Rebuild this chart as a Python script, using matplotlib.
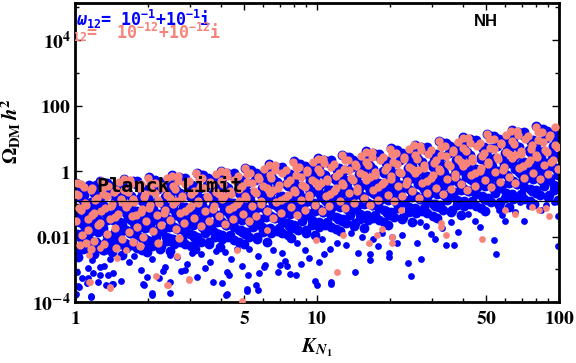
import matplotlib
matplotlib.use('Agg')
import matplotlib.pyplot as plt
from matplotlib.font_manager import FontProperties
from matplotlib.ticker import FixedLocator, NullFormatter

# math fonts: stix for axis labels, custom mono bold for the legend lines
plt.rcParams['mathtext.fontset'] = 'stix'
plt.rcParams['mathtext.rm'] = 'DejaVu Sans Mono:bold'
plt.rcParams['mathtext.it'] = 'DejaVu Sans Mono:bold:italic'
plt.rcParams['mathtext.bf'] = 'DejaVu Sans Mono:bold'

# (K_N1, Omega h^2), omega12 = 1e-1 + 1e-1 i
blue_core = [
    (1.01,0.44),(1.12,0.31),(1.20,0.22),(1.04,0.16),(1.17,0.11),(1.08,0.078),(1.23,0.055),(1.02,0.039),(1.14,0.027),(1.10,0.02),(1.25,0.014),(1.05,0.0098),(1.19,0.007),(1.07,0.0049),(1.16,0.0033),(1.03,0.0024),(1.22,0.38),(1.09,0.19),(1.15,0.068),(1.24,0.033),(1.06,0.012),(1.21,0.0042),
    (1.27,0.5),(1.41,0.36),(1.52,0.25),(1.33,0.18),(1.47,0.125),(1.30,0.089),(1.56,0.063),(1.38,0.045),(1.44,0.032),(1.29,0.022),(1.54,0.016),(1.35,0.011),(1.49,0.008),(1.40,0.0056),(1.31,0.0039),(1.57,0.0028),(1.36,0.42),(1.50,0.21),(1.28,0.075),(1.45,0.038),(1.53,0.013),(1.34,0.0066),
    (1.60,0.58),(1.78,0.41),(1.92,0.29),(1.66,0.21),(1.86,0.145),(1.71,0.1),(1.97,0.073),(1.63,0.052),(1.82,0.037),(1.75,0.026),(1.94,0.018),(1.68,0.013),(1.89,0.0092),(1.61,0.0065),(1.80,0.0046),(1.98,0.0033),(1.73,0.5),(1.90,0.24),(1.64,0.085),(1.84,0.044),(1.70,0.015),(1.95,0.0078),
    (2.02,0.65),(2.25,0.46),(2.42,0.32),(2.10,0.23),(2.35,0.16),(2.17,0.115),(2.48,0.082),(2.05,0.058),(2.30,0.041),(2.20,0.029),(2.45,0.02),(2.12,0.0145),(2.38,0.01),(2.03,0.0072),(2.27,0.0051),(2.46,0.0036),(2.15,0.55),(2.40,0.27),(2.07,0.095),(2.33,0.049),(2.22,0.017),(2.44,0.0088),
    (2.52,0.75),(2.82,0.53),(3.05,0.37),(2.61,0.26),(2.95,0.185),(2.70,0.13),(3.12,0.093),(2.56,0.066),(2.88,0.047),(2.76,0.033),(3.08,0.023),(2.65,0.0165),(2.99,0.0117),(2.54,0.0083),(2.85,0.0059),(3.14,0.0042),(2.68,0.64),(3.01,0.31),(2.58,0.11),(2.92,0.056),(2.79,0.02),(3.10,0.01),
    (3.18,0.88),(3.55,0.62),(3.85,0.44),(3.30,0.31),(3.72,0.22),(3.41,0.155),(3.93,0.11),(3.22,0.078),(3.63,0.055),(3.48,0.039),(3.88,0.027),(3.35,0.0195),(3.77,0.0138),(3.20,0.0098),(3.59,0.0069),(3.96,0.0049),(3.38,0.75),(3.80,0.37),(3.26,0.13),(3.67,0.066),(3.52,0.024),(3.90,0.012),
    (4.02,1.03),(4.45,0.73),(4.85,0.52),(4.15,0.36),(4.70,0.26),(4.30,0.18),(4.95,0.13),(4.08,0.091),(4.58,0.065),(4.38,0.046),(4.88,0.032),(4.22,0.023),(4.75,0.016),(4.05,0.0115),(4.52,0.0081),(4.98,0.0058),(4.25,0.88),(4.80,0.43),(4.12,0.15),(4.62,0.077),(4.42,0.028),(4.92,0.014),
    (5.03,1.25),(5.6,0.88),(6.1,0.63),(5.2,0.44),(5.9,0.31),(5.4,0.22),(6.25,0.157),(5.1,0.111),(5.75,0.079),(5.5,0.056),(6.15,0.039),(5.3,0.028),(5.95,0.0197),(5.07,0.014),(5.65,0.0099),(6.2,0.007),(5.35,1.07),(6.0,0.53),(5.15,0.185),(5.8,0.093),(5.55,0.034),(6.05,0.017),
    (6.35,1.6),(7.05,1.13),(7.7,0.8),(6.55,0.57),(7.45,0.4),(6.8,0.28),(7.85,0.2),(6.45,0.143),(7.25,0.101),(6.95,0.072),(7.75,0.05),(6.65,0.036),(7.5,0.025),(6.4,0.018),(7.15,0.0127),(7.8,0.009),(6.75,1.37),(7.6,0.68),(6.5,0.24),(7.3,0.12),(7.0,0.043),(7.65,0.021),
    (8.0,1.96),(8.9,1.39),(9.7,0.98),(8.25,0.7),(9.4,0.49),(8.55,0.35),(9.9,0.245),(8.1,0.175),(9.15,0.124),(8.75,0.088),(9.8,0.062),(8.4,0.044),(9.5,0.031),(8.05,0.022),(9.0,0.0156),(9.85,0.011),(8.5,1.68),(9.6,0.84),(8.2,0.29),(9.2,0.147),(8.8,0.053),(9.65,0.026),
    (10.1,2.5),(11.2,1.77),(12.3,1.25),(10.4,0.89),(11.8,0.63),(10.8,0.44),(12.5,0.31),(10.2,0.22),(11.5,0.158),(11.0,0.112),(12.4,0.079),(10.6,0.056),(12.0,0.04),(10.15,0.028),(11.4,0.02),(12.45,0.0145),(10.7,2.15),(12.1,1.07),(10.3,0.37),(11.6,0.19),(11.1,0.067),(12.2,0.034),
    (12.7,3.1),(14.1,2.2),(15.5,1.57),(13.1,1.1),(14.9,0.79),(13.6,0.55),(15.7,0.39),(12.85,0.28),(14.5,0.2),(13.9,0.14),(15.6,0.099),(13.3,0.07),(15.1,0.05),(12.75,0.035),(14.3,0.025),(15.65,0.018),(13.5,2.7),(15.2,1.34),(13.0,0.46),(14.6,0.24),(14.0,0.084),(15.4,0.042),
    (16.0,4.0),(17.8,2.83),(19.5,2.0),(16.5,1.42),(18.8,1.0),(17.2,0.71),(19.8,0.5),(16.2,0.36),(18.3,0.25),(17.5,0.18),(19.6,0.127),(16.8,0.09),(19.0,0.064),(16.1,0.045),(18.0,0.032),(19.7,0.023),(17.0,3.5),(19.2,1.72),(16.4,0.59),(18.5,0.3),(17.7,0.108),(19.4,0.054),
    (20.2,5.0),(22.4,3.55),(24.6,2.5),(20.8,1.78),(23.7,1.26),(21.6,0.89),(24.9,0.63),(20.4,0.45),(23.1,0.32),(22.0,0.22),(24.7,0.158),(21.2,0.112),(23.9,0.079),(20.3,0.056),(22.7,0.04),(24.8,0.028),(21.4,4.3),(24.2,2.15),(20.6,0.74),(23.3,0.38),(22.2,0.135),(24.4,0.067),
    (25.3,6.4),(28.2,4.5),(31.0,3.2),(26.2,2.27),(29.9,1.6),(27.2,1.14),(31.4,0.8),(25.6,0.57),(29.1,0.4),(27.7,0.285),(31.2,0.2),(26.7,0.143),(30.2,0.101),(25.5,0.072),(28.6,0.051),(31.3,0.036),(27.0,5.5),(30.5,2.75),(25.9,0.95),(29.4,0.48),(28.0,0.17),(30.8,0.086),
    (31.9,8.3),(35.5,5.9),(39.0,4.2),(33.0,2.95),(37.6,2.1),(34.3,1.48),(39.5,1.05),(32.3,0.74),(36.7,0.52),(34.9,0.37),(39.3,0.26),(33.6,0.185),(38.0,0.13),(32.1,0.093),(36.0,0.066),(39.4,0.047),(34.0,7.1),(38.4,3.55),(32.6,1.23),(37.0,0.62),(35.3,0.22),(38.8,0.11),
    (40.2,10.7),(44.7,7.6),(49.2,5.4),(41.6,3.8),(47.4,2.7),(43.2,1.9),(49.7,1.35),(40.7,0.95),(46.2,0.67),(44.0,0.48),(49.5,0.34),(42.3,0.24),(47.9,0.17),(40.4,0.12),(45.4,0.085),(49.6,0.06),(42.8,9.2),(48.4,4.6),(41.1,1.6),(46.6,0.8),(44.5,0.28),(48.9,0.14),
    (50.6,13.8),(56.3,9.8),(61.9,6.9),(52.4,4.9),(59.7,3.5),(54.4,2.45),(62.6,1.74),(51.2,1.23),(58.2,0.87),(55.4,0.62),(62.3,0.44),(53.3,0.31),(60.3,0.22),(50.9,0.155),(57.1,0.11),(62.4,0.078),(53.9,11.9),(61.0,5.9),(51.8,2.05),(58.7,1.03),(56.0,0.37),(61.6,0.18),
    (63.7,17.8),(70.9,12.6),(77.9,8.9),(66.0,6.3),(75.1,4.5),(68.5,3.2),(78.8,2.25),(64.5,1.59),(73.3,1.12),(69.8,0.8),(78.4,0.56),(67.1,0.4),(75.9,0.28),(64.1,0.2),(71.9,0.142),(78.6,0.1),(67.9,15.3),(76.8,7.6),(65.2,2.65),(73.9,1.33),(70.5,0.47),(77.6,0.24),
    (80.2,23),(89.3,16.4),(98.1,11.6),(83.1,8.2),(94.6,5.8),(86.3,4.1),(99.2,2.9),(81.2,2.06),(92.3,1.46),(87.9,1.03),(98.7,0.73),(84.5,0.52),(95.6,0.37),(80.7,0.26),(90.6,0.185),(99.0,0.13),(85.5,19.8),(96.7,9.9),(82.1,3.45),(93.1,1.72),(88.8,0.61),(97.8,0.3),
]

blue_fill = [
    (1.14,0.372),(1.02,0.257),(1.25,0.186),(1.08,0.129),(1.20,0.093),(1.02,0.065),(1.14,0.0466),(1.25,0.0323),(1.08,0.0235),(1.20,0.0162),(1.02,0.0118),(1.14,0.0081),(1.25,0.0059),(1.08,0.0041),(1.20,0.0029),
    (1.32,0.426),(1.51,0.294),(1.40,0.213),(1.56,0.147),(1.27,0.106),(1.47,0.074),(1.33,0.053),(1.41,0.037),(1.54,0.027),(1.30,0.0185),(1.46,0.0134),(1.37,0.0093),(1.55,0.0067),(1.27,0.0046),(1.42,0.0034),
    (1.81,0.494),(1.62,0.341),(1.98,0.247),(1.71,0.171),(1.90,0.124),(1.62,0.086),(1.81,0.062),(1.98,0.043),(1.71,0.031),(1.90,0.0215),(1.62,0.0156),(1.81,0.0108),(1.98,0.0078),(1.71,0.0054),(1.90,0.0039),
    (2.09,0.547),(2.39,0.378),(2.21,0.274),(2.47,0.189),(2.01,0.137),(2.33,0.095),(2.11,0.068),(2.23,0.048),(2.43,0.035),(2.05,0.024),(2.31,0.0173),(2.17,0.012),(2.45,0.0086),(2.02,0.006),(2.25,0.0043),
    (2.86,0.631),(2.56,0.436),(3.14,0.315),(2.71,0.218),(3.01,0.158),(2.56,0.11),(2.86,0.079),(3.14,0.055),(2.71,0.04),(3.01,0.027),(2.56,0.02),(2.86,0.0138),(3.14,0.01),(2.71,0.0069),(3.01,0.005),
    (3.32,0.745),(3.79,0.515),(3.51,0.372),(3.92,0.258),(3.19,0.186),(3.70,0.129),(3.35,0.093),(3.54,0.065),(3.86,0.047),(3.26,0.032),(3.67,0.0235),(3.45,0.0163),(3.89,0.0118),(3.20,0.0081),(3.57,0.0059),
    (4.54,0.874),(4.06,0.604),(4.98,0.437),(4.30,0.302),(4.78,0.219),(4.06,0.152),(4.54,0.109),(4.98,0.076),(4.30,0.055),(4.78,0.038),(4.06,0.0276),(4.54,0.0191),(4.98,0.0138),(4.30,0.0095),(4.78,0.0069),
    (5.26,1.06),(6.01,0.735),(5.56,0.532),(6.21,0.368),(5.06,0.266),(5.86,0.185),(5.31,0.133),(5.61,0.092),(6.11,0.067),(5.16,0.046),(5.81,0.034),(5.46,0.023),(6.16,0.0168),(5.06,0.0116),(5.66,0.0084),
    (7.19,1.37),(6.44,0.945),(7.89,0.684),(6.81,0.473),(7.57,0.342),(6.44,0.238),(7.19,0.171),(7.89,0.119),(6.81,0.086),(7.57,0.059),(6.44,0.043),(7.19,0.030),(7.89,0.0216),(6.81,0.0149),(7.57,0.0108),
    (8.34,1.67),(9.53,1.155),(8.82,0.836),(9.85,0.579),(8.02,0.418),(9.29,0.29),(8.42,0.209),(8.90,0.145),(9.69,0.106),(8.18,0.073),(9.21,0.053),(8.66,0.0365),(9.77,0.0264),(8.02,0.0183),(8.98,0.0132),
    (11.4,2.13),(10.2,1.47),(12.5,1.06),(10.8,0.736),(12.0,0.532),(10.2,0.37),(11.4,0.266),(12.5,0.185),(10.8,0.134),(12.0,0.092),(10.2,0.067),(11.4,0.046),(12.5,0.034),(10.8,0.023),(12.0,0.0168),
    (13.2,2.66),(15.1,1.84),(14.0,1.33),(15.6,0.92),(12.7,0.665),(14.7,0.462),(13.3,0.333),(14.1,0.231),(15.4,0.168),(13.0,0.116),(14.6,0.084),(13.7,0.058),(15.5,0.042),(12.7,0.029),(14.2,0.021),
    (18.1,3.42),(16.2,2.36),(19.8,1.71),(17.1,1.18),(19.0,0.855),(16.2,0.594),(18.1,0.428),(19.8,0.297),(17.1,0.216),(19.0,0.149),(16.2,0.108),(18.1,0.075),(19.8,0.054),(17.1,0.037),(19.0,0.027),
    (20.9,4.26),(23.9,2.94),(22.1,2.13),(24.7,1.47),(20.1,1.06),(23.3,0.74),(21.1,0.532),(22.3,0.37),(24.3,0.269),(20.5,0.185),(23.1,0.134),(21.7,0.093),(24.5,0.067),(20.1,0.046),(22.5,0.034),
    (28.6,5.47),(25.6,3.78),(31.4,2.74),(27.1,1.89),(30.1,1.37),(25.6,0.95),(28.6,0.684),(31.4,0.475),(27.1,0.346),(30.1,0.238),(25.6,0.173),(28.6,0.12),(31.4,0.086),(27.1,0.06),(30.1,0.043),
    (33.2,7.07),(37.9,4.88),(35.1,3.53),(39.2,2.45),(31.9,1.77),(37.0,1.23),(33.5,0.884),(35.4,0.614),(38.6,0.446),(32.6,0.307),(36.7,0.223),(34.5,0.154),(38.9,0.112),(31.9,0.077),(35.7,0.056),
    (45.4,9.12),(40.6,6.3),(49.8,4.56),(43.0,3.16),(47.8,2.28),(40.6,1.58),(45.4,1.14),(49.8,0.79),(43.0,0.576),(47.8,0.396),(40.6,0.288),(45.4,0.2),(49.8,0.144),(43.0,0.1),(47.8,0.072),
    (52.6,11.8),(60.1,8.14),(55.6,5.89),(62.1,4.08),(50.6,2.95),(58.6,2.05),(53.1,1.47),(56.1,1.02),(61.1,0.744),(51.6,0.512),(58.1,0.372),(54.6,0.257),(61.6,0.186),(50.6,0.129),(56.6,0.093),
    (71.9,15.2),(64.4,10.5),(78.9,7.6),(68.1,5.26),(75.7,3.8),(64.4,2.64),(71.9,1.9),(78.9,1.32),(68.1,0.96),(75.7,0.66),(64.4,0.48),(71.9,0.332),(78.9,0.24),(68.1,0.166),(75.7,0.12),
    (83.4,19.8),(95.3,13.7),(88.2,9.88),(98.5,6.84),(80.2,4.94),(92.9,3.43),(84.2,2.47),(89.0,1.72),(96.9,1.25),(81.8,0.858),(92.1,0.624),(86.6,0.432),(97.7,0.312),(80.2,0.216),(89.8,0.156),
]

# lower half of the band, where the blue runs almost solid
blue_low = [
    (1.11,0.0436),(1.04,0.0274),(1.19,0.0196),(1.15,0.0137),(1.06,0.0098),(1.22,0.0066),(1.10,0.0049),(1.02,0.0035),
    (1.49,0.05),(1.35,0.031),(1.56,0.0224),(1.28,0.0157),(1.44,0.0112),(1.37,0.0076),(1.51,0.0056),(1.32,0.004),
    (1.76,0.058),(1.65,0.036),(1.89,0.026),(1.82,0.0182),(1.68,0.013),(1.93,0.0088),(1.74,0.0065),(1.62,0.0046),
    (2.35,0.064),(2.13,0.04),(2.47,0.029),(2.03,0.020),(2.27,0.0144),(2.17,0.0097),(2.39,0.0072),(2.09,0.0051),
    (2.79,0.074),(2.61,0.046),(2.99,0.033),(2.89,0.023),(2.66,0.0166),(3.06,0.0112),(2.76,0.0083),(2.56,0.0059),
    (3.73,0.087),(3.38,0.055),(3.92,0.039),(3.23,0.027),(3.60,0.0196),(3.45,0.0132),(3.79,0.0098),(3.32,0.007),
    (4.42,0.102),(4.14,0.064),(4.74,0.046),(4.58,0.032),(4.22,0.023),(4.86,0.0155),(4.38,0.0115),(4.06,0.0082),
    (5.91,0.125),(5.36,0.078),(6.21,0.056),(5.11,0.039),(5.71,0.028),(5.46,0.019),(6.01,0.014),(5.26,0.0099),
    (7.0,0.16),(6.56,0.1),(7.51,0.072),(7.26,0.05),(6.69,0.036),(7.70,0.0243),(6.94,0.018),(6.44,0.0128),
    (9.37,0.196),(8.50,0.123),(9.85,0.088),(8.10,0.062),(9.06,0.044),(8.66,0.0297),(9.53,0.022),(8.34,0.0156),
    (11.1,0.249),(10.4,0.157),(11.9,0.112),(11.5,0.078),(10.6,0.056),(12.2,0.038),(11.0,0.028),(10.2,0.02),
    (14.9,0.31),(13.5,0.196),(15.6,0.14),(12.8,0.098),(14.4,0.07),(13.7,0.047),(15.1,0.035),(13.2,0.025),
    (17.6,0.40),(16.5,0.252),(18.9,0.18),(18.2,0.126),(16.8,0.09),(19.3,0.061),(17.4,0.045),(16.2,0.032),
    (23.5,0.50),(21.3,0.314),(24.7,0.224),(20.3,0.157),(22.7,0.112),(21.7,0.076),(23.9,0.056),(20.9,0.04),
    (27.9,0.64),(26.1,0.40),(29.9,0.29),(28.9,0.20),(26.6,0.144),(30.6,0.097),(27.6,0.072),(25.6,0.051),
    (37.3,0.83),(33.8,0.52),(39.2,0.37),(32.3,0.26),(36.0,0.186),(34.5,0.126),(37.9,0.093),(33.2,0.066),
    (44.2,1.07),(41.4,0.67),(47.4,0.48),(45.8,0.336),(42.2,0.24),(48.6,0.162),(43.8,0.12),(40.6,0.085),
    (59.1,1.38),(53.6,0.87),(62.1,0.62),(51.1,0.43),(57.1,0.31),(54.6,0.21),(60.1,0.155),(52.6,0.11),
    (70.0,1.78),(65.6,1.12),(75.1,0.8),(72.6,0.56),(66.9,0.4),(77.0,0.27),(69.4,0.2),(64.4,0.142),
    (93.7,2.31),(85.0,1.46),(98.5,1.04),(81.0,0.73),(90.6,0.52),(86.6,0.35),(95.3,0.26),(83.4,0.185),
]

blue_sparse = [
    (1.02,0.00085),(1.13,0.0011),(1.18,0.0019),(1.32,0.0013),(1.43,0.00075),(1.39,0.0021),(1.55,0.00045),(1.67,0.0017),(1.88,0.00095),(1.76,0.0026),
    (1.99,0.0006),(2.08,0.0021),(2.36,0.0012),(2.23,0.00055),(2.47,0.0028),(2.63,0.0024),(2.90,0.0014),(3.03,0.0031),(2.74,0.0009),(3.33,0.0029),
    (3.62,0.0017),(3.83,0.0037),(3.45,0.0011),(4.18,0.0034),(4.40,0.002),(4.33,0.00065),(4.65,0.0043),(4.90,0.0013),(5.25,0.0042),(5.7,0.0025),
    (6.05,0.0012),(7.2,0.0031),(7.4,0.0018),(6.9,0.00085),(8.3,0.0065),(8.95,0.0038),(9.3,0.0022),(8.6,0.0014),(12.1,0.0063),(11.3,0.0041),
    (10.5,0.0085),(13.2,0.0055),(14.8,0.0032),(15.3,0.0095),(13.8,0.0125),(18.6,0.0125),(17.1,0.0085),(17.9,0.0052),(20.4,0.0095),(22.5,0.011),
    (21.5,0.0065),(26.0,0.0062),(29.5,0.012),(30.6,0.0085),(28.3,0.021),(26.6,0.028),(32.9,0.018),(35.7,0.028),(38.2,0.014),(45.0,0.03),
    (42.0,0.05),(47.0,0.02),(58.0,0.045),(56.5,0.065),(60.0,0.03),(66.0,0.055),(72.0,0.03),(75.0,0.085),(69.0,0.11),(99.0,0.042),
    (95.0,0.11),(88.0,0.09),(84.0,0.065),
]

blue_tail = [
    (1.00,1.6e-4),(1.01,1.7e-4),(1.03,3.1e-4),(1.04,2.8e-4),(1.07,5.4e-4),(1.13,5.4e-4),(1.12,3.8e-4),(1.16,1.4e-4),(1.17,1.5e-4),(1.19,7.8e-4),
    (1.25,4.1e-4),(1.27,1.2e-3),(1.27,6.5e-4),(1.34,3.2e-4),(1.37,6.5e-4),(1.42,3.5e-4),(1.43,3.5e-4),(1.91,3.5e-4),(1.93,3.4e-4),(2.08,1.9e-4),
    (2.08,1.6e-4),(2.31,9e-4),(2.46,1.9e-4),(2.46,4e-4),(2.85,9.5e-4),(3.19,5.7e-4),(3.72,4.1e-4),(4.06,3.8e-4),(4.2,1.6e-4),(4.24,1.8e-4),
    (4.24,8.5e-4),(5.13,2.5e-4),(5.14,2.2e-4),(5.2,6.6e-4),(5.6,3.2e-4),(5.7,2.3e-4),(5.76,7.9e-4),(6.1,1.35e-3),(6.6,3.9e-3),(7.0,1.35e-3),
    (7.55,1.3e-3),(7.7,7.4e-4),(8.2,6.6e-4),(9.8,4.3e-4),(10.0,3.4e-4),(10.2,1.7e-3),(10.7,2.9e-3),(11.4,3.6e-4),(11.4,4e-4),(14.4,8.3e-4),
    (16.6,2.9e-3),(16.6,1.9e-3),(19.9,3.2e-3),(19.9,2.4e-3),(23.7,1.55e-3),(24.5,6.3e-4),(27.0,2e-3),(34.0,5.6e-3),(36.8,5.6e-3),(53.8,7.9e-3),
    (55.0,3e-3),(99.0,5.2e-3),
]

# omega12 = 1e-12 + 1e-12 i
pink_core = [
    (1.02,0.42),(1.09,0.33),(1.16,0.26),(1.03,0.18),(1.21,0.13),(1.11,0.09),(1.06,0.065),(1.18,0.045),(1.01,0.03),(1.24,0.022),(1.13,0.016),(1.07,0.011),(1.2,0.0075),
    (1.28,0.48),(1.37,0.34),(1.48,0.27),(1.30,0.2),(1.55,0.14),(1.42,0.1),(1.33,0.072),(1.51,0.05),(1.39,0.035),(1.27,0.025),(1.46,0.018),(1.35,0.012),(1.57,0.0085),
    (1.59,0.56),(1.70,0.4),(1.83,0.31),(1.65,0.23),(1.93,0.16),(1.76,0.115),(1.62,0.082),(1.88,0.058),(1.72,0.041),(1.97,0.029),(1.80,0.02),(1.67,0.014),(1.91,0.0098),
    (2.01,0.62),(2.14,0.44),(2.29,0.34),(2.08,0.25),(2.41,0.18),(2.21,0.13),(2.04,0.09),(2.36,0.064),(2.18,0.045),(2.47,0.032),(2.26,0.022),(2.11,0.015),
    (2.51,0.72),(2.66,0.51),(2.86,0.39),(2.59,0.28),(3.02,0.2),(2.77,0.145),(2.55,0.1),(2.97,0.072),(2.72,0.051),(3.11,0.036),(2.83,0.025),(2.62,0.017),
    (3.17,0.85),(3.36,0.6),(3.61,0.46),(3.27,0.33),(3.82,0.235),(3.50,0.17),(3.21,0.12),(3.75,0.085),(3.43,0.06),(3.92,0.042),(3.58,0.03),(3.31,0.021),
    (4.01,1.0),(4.24,0.7),(4.55,0.54),(4.10,0.39),(4.78,0.28),(4.40,0.2),(4.06,0.14),(4.68,0.1),(4.32,0.07),(4.93,0.05),(4.50,0.035),(4.17,0.024),
    (5.02,1.2),(5.3,0.85),(5.7,0.66),(5.12,0.47),(6.0,0.34),(5.5,0.24),(5.05,0.17),(5.85,0.12),(5.4,0.085),(6.2,0.06),(5.6,0.042),(5.25,0.03),
    (6.33,1.55),(6.7,1.1),(7.2,0.85),(6.48,0.6),(7.55,0.44),(6.9,0.31),(6.38,0.22),(7.4,0.155),(6.8,0.11),(7.82,0.077),(7.1,0.054),(6.6,0.038),
    (7.95,1.9),(8.45,1.35),(9.05,1.04),(8.15,0.74),(9.55,0.54),(8.7,0.38),(8.05,0.27),(9.3,0.19),(8.6,0.135),(9.85,0.095),(8.95,0.066),(8.3,0.047),
    (10.05,2.4),(10.65,1.72),(11.4,1.32),(10.25,0.94),(12.0,0.69),(10.95,0.48),(10.1,0.34),(11.7,0.24),(10.85,0.17),(12.4,0.12),(11.25,0.084),(10.45,0.06),
    (12.65,3.0),(13.4,2.15),(14.4,1.65),(12.9,1.18),(15.1,0.86),(13.8,0.6),(12.7,0.43),(14.7,0.3),(13.6,0.21),(15.6,0.15),(14.2,0.105),(13.1,0.075),
    (15.9,3.85),(16.9,2.75),(18.2,2.1),(16.3,1.5),(19.1,1.1),(17.4,0.77),(16.0,0.55),(18.6,0.39),(17.1,0.27),(19.7,0.19),(17.9,0.135),(16.6,0.095),
    (20.1,4.8),(21.3,3.45),(22.9,2.65),(20.6,1.9),(24.0,1.37),(21.9,0.96),(20.2,0.69),(23.5,0.48),(21.6,0.34),(24.7,0.24),(22.5,0.17),(20.9,0.12),
    (25.2,6.2),(26.9,4.4),(28.8,3.4),(25.9,2.4),(30.3,1.75),(27.6,1.23),(25.4,0.88),(29.6,0.62),(27.2,0.44),(31.1,0.31),(28.4,0.22),(26.3,0.155),
    (31.8,8.0),(33.9,5.7),(36.3,4.4),(32.6,3.1),(38.2,2.25),(34.8,1.6),(32.0,1.13),(37.3,0.8),(34.3,0.57),(39.2,0.4),(35.8,0.28),(33.2,0.2),
    (40.1,10.3),(42.7,7.3),(45.8,5.7),(41.1,4.0),(48.1,2.9),(43.8,2.05),(40.3,1.46),(47.0,1.03),(43.2,0.73),(49.4,0.52),(45.1,0.36),(41.7,0.26),
    (50.5,13.3),(53.8,9.5),(57.7,7.3),(51.8,5.2),(60.6,3.75),(55.2,2.65),(50.8,1.88),(59.2,1.33),(54.5,0.94),(62.2,0.67),(56.8,0.47),(52.5,0.33),
    (63.5,17.2),(67.8,12.3),(72.7,9.4),(65.2,6.7),(76.3,4.85),(69.5,3.4),(63.9,2.43),(74.6,1.72),(68.6,1.22),(78.3,0.86),(71.5,0.6),(66.1,0.43),
    (80.0,22.3),(85.4,15.9),(91.6,12.2),(82.1,8.7),(96.1,6.3),(87.6,4.45),(80.5,3.15),(94.0,2.23),(86.4,1.58),(98.6,1.12),(90.1,0.79),(83.3,0.56),
]

pink_fill = [
    (1.06,0.407),(1.18,0.294),(1.01,0.204),(1.23,0.148),(1.10,0.102),(1.04,0.074),(1.20,0.051),(1.13,0.035),(1.05,0.0055),(1.17,0.0042),(1.11,0.0065),
    (1.52,0.465),(1.30,0.336),(1.45,0.234),(1.36,0.169),(1.56,0.117),(1.41,0.085),(1.28,0.059),(1.47,0.04),(1.32,0.0058),(1.48,0.0045),
    (1.68,0.54),(1.87,0.39),(1.60,0.271),(1.95,0.196),(1.74,0.136),(1.65,0.098),(1.90,0.068),(1.79,0.046),(1.74,0.0068),(1.85,0.0052),
    (2.41,0.598),(2.05,0.432),(2.29,0.3),(2.15,0.217),(2.47,0.15),(2.23,0.109),(2.03,0.076),(2.33,0.051),(2.2,0.0062),
    (2.66,0.689),(2.96,0.498),(2.54,0.346),(3.09,0.251),(2.76,0.173),(2.61,0.125),(3.01,0.087),(2.84,0.059),(2.7,0.0088),
    (3.83,0.813),(3.26,0.588),(3.64,0.409),(3.41,0.296),(3.92,0.205),(3.54,0.148),(3.23,0.103),(3.70,0.07),
    (4.22,0.955),(4.70,0.69),(4.02,0.48),(4.90,0.347),(4.38,0.24),(4.14,0.174),(4.78,0.121),(4.50,0.082),
    (6.06,1.16),(5.16,0.84),(5.76,0.584),(5.41,0.423),(6.21,0.293),(5.61,0.211),(5.11,0.147),(5.86,0.099),
    (6.69,1.49),(7.45,1.08),(6.37,0.75),(7.76,0.544),(6.94,0.376),(6.56,0.272),(7.57,0.189),(7.13,0.128),
    (9.61,1.83),(8.18,1.32),(9.13,0.917),(8.58,0.664),(9.85,0.46),(8.90,0.332),(8.10,0.231),(9.29,0.156),
    (10.6,2.32),(11.8,1.68),(10.1,1.17),(12.3,0.846),(11.0,0.585),(10.4,0.423),(12.0,0.294),(11.3,0.199),
    (15.2,2.9),(13.0,2.1),(14.5,1.46),(13.6,1.06),(15.6,0.73),(14.1,0.528),(12.8,0.368),(14.7,0.249),
    (16.8,3.74),(18.7,2.7),(16.0,1.88),(19.5,1.36),(17.4,0.94),(16.5,0.68),(19.0,0.473),(17.9,0.32),
    (24.1,4.65),(20.5,3.36),(22.9,2.34),(21.5,1.69),(24.7,1.17),(22.3,0.846),(20.3,0.588),(23.3,0.398),
    (26.6,5.98),(29.6,4.32),(25.4,3.0),(30.9,2.17),(27.6,1.5),(26.1,1.09),(30.1,0.756),(28.4,0.511),
    (38.3,7.72),(32.6,5.58),(36.4,3.88),(34.1,2.81),(39.2,1.94),(35.4,1.4),(32.3,0.977),(37.0,0.66),
    (42.2,9.96),(47.0,7.2),(40.2,5.0),(49.0,3.62),(43.8,2.51),(41.4,1.81),(47.8,1.26),(45.0,0.852),
    (60.6,12.9),(51.6,9.3),(57.6,6.46),(54.1,4.68),(62.1,3.24),(56.1,2.34),(51.1,1.63),(58.6,1.1),
    (66.9,16.6),(74.5,12.0),(63.7,8.34),(77.6,6.04),(69.4,4.18),(65.6,3.02),(75.7,2.1),(71.3,1.42),
    (96.1,21.6),(81.8,15.6),(91.3,10.8),(85.8,7.85),(98.5,5.43),(89.0,3.93),(81.0,2.73),(92.9,1.85),
]

pink_tail = [
    (1.14,4.2e-4),(1.15,4.1e-4),(1.39,2.7e-4),(1.39,2.95e-4),(2.16,6.3e-4),(2.41,3.3e-4),(2.42,3.3e-4),(2.95,4.7e-4),(2.96,5e-4),(4.9,1.05e-4),
    (2.65,2.5e-3),(1.62,3.9e-3),(1.49,2.2e-3),(1.14,2.75e-3),(1.27,4.5e-3),(4.67,3.9e-3),(6.2,0.016),(9.9,7.9e-3),(12.1,8.5e-4),(12.8,0.011),
    (16.4,6.3e-3),(17.7,0.011),(18.6,0.017),(20.4,0.01),(20.4,0.0063),(22.2,0.065),(32.5,0.025),(32.5,0.02),(34.2,0.011),(48,0.0085),
    (60,0.063),(66,0.049),(77,0.079),(83,0.063),(88,0.074),(91,0.043),
]

planck = 0.12
x_ticks = [1, 5, 10, 50, 100]
x_labels = ['1', '5', '10', '50', '100']
x_minor = [2, 3, 4, 6, 7, 8, 9, 20, 30, 40, 60, 70, 80, 90]
y_ticks = [1e-4, 1e-2, 1, 1e2, 1e4]
y_labels = [r'$\mathbf{10^{-4}}$', r'$\mathbf{0.01}$', r'$\mathbf{1}$', r'$\mathbf{100}$', r'$\mathbf{10^{4}}$']
y_minor = [1e-3, 1e-1, 1e1, 1e3, 1e5]

blue_col = '#0000ff'
pink_col = '#f88379'

bc_k, bc_om = zip(*(blue_core + blue_fill + blue_low))
bt_k, bt_om = zip(*(blue_sparse + blue_tail))
pc_k, pc_om = zip(*(pink_core + pink_fill))
pt_k, pt_om = zip(*pink_tail)

fig = plt.figure(figsize=(5.76, 3.63), dpi=100)
ax = fig.add_axes([0.1302, 0.168, 0.8403, 0.8237])

# dense band drawn with slightly bigger dots so it closes up like the original
ax.scatter(bc_k, bc_om, s=50, c=blue_col, linewidths=0, zorder=2)
ax.scatter(bt_k, bt_om, s=24, c=blue_col, linewidths=0, zorder=2)
ax.scatter(pc_k, pc_om, s=36, c=pink_col, linewidths=0, zorder=3)
ax.scatter(pt_k, pt_om, s=24, c=pink_col, linewidths=0, zorder=3)
ax.axhline(planck, color='black', lw=0.9, zorder=4)

ax.set_xscale('log')
ax.set_yscale('log')
ax.set_xlim(1, 100)
ax.set_ylim(1e-4, 1.35e5)

ax.xaxis.set_major_locator(FixedLocator(x_ticks))
ax.set_xticklabels([r'$\mathbf{%s}$' % s for s in x_labels])
ax.xaxis.set_minor_locator(FixedLocator(x_minor))
ax.xaxis.set_minor_formatter(NullFormatter())
ax.yaxis.set_major_locator(FixedLocator(y_ticks))
ax.set_yticklabels(y_labels)
ax.yaxis.set_minor_locator(FixedLocator(y_minor))
ax.yaxis.set_minor_formatter(NullFormatter())

ax.tick_params(which='both', direction='in', top=True, right=True, width=1, labelsize=14)
ax.tick_params(which='major', length=5, pad=5)
ax.tick_params(which='minor', length=3)
ax.tick_params(axis='y', which='major', pad=3)
for sp in ax.spines.values():
    sp.set_linewidth(2)

ax.set_xlabel(r'$\mathbfit{K}_{\mathbfit{N}_{\mathbf{1}}}$', fontsize=15, labelpad=6)
ax.set_ylabel(r'$\mathbf{\Omega_{DM}}\,\mathbfit{h}^{\mathbf{2}}$', fontsize=15)
ax.yaxis.set_label_coords(-0.107, 0.57)

# legend lines, the second one runs under the left frame like in the original
mono = FontProperties(family='DejaVu Sans Mono', weight='bold', size=12, math_fontfamily='custom')
ax.text(0.002, 0.923, r'$\omega_{12}$= $10^{-1}$+$10^{-1}$i', color=blue_col,
        fontproperties=mono, transform=ax.transAxes, va='baseline', zorder=6)
ax.text(-0.027, 0.8796, r'$\omega_{12}$=  $10^{-12}$+$10^{-12}$i', color=pink_col,
        fontproperties=mono, transform=ax.transAxes, va='baseline', zorder=6, clip_on=True)
ax.text(0.824, 0.923, 'NH', fontsize=12, fontweight='bold', family='Liberation Sans',
        transform=ax.transAxes, va='baseline')
ax.text(0.0455, 0.368, 'Planck Limit', fontsize=14.5, fontweight='bold', family='DejaVu Sans Mono',
        transform=ax.transAxes, va='baseline', zorder=6)

fig.savefig('out.png', dpi=100)
